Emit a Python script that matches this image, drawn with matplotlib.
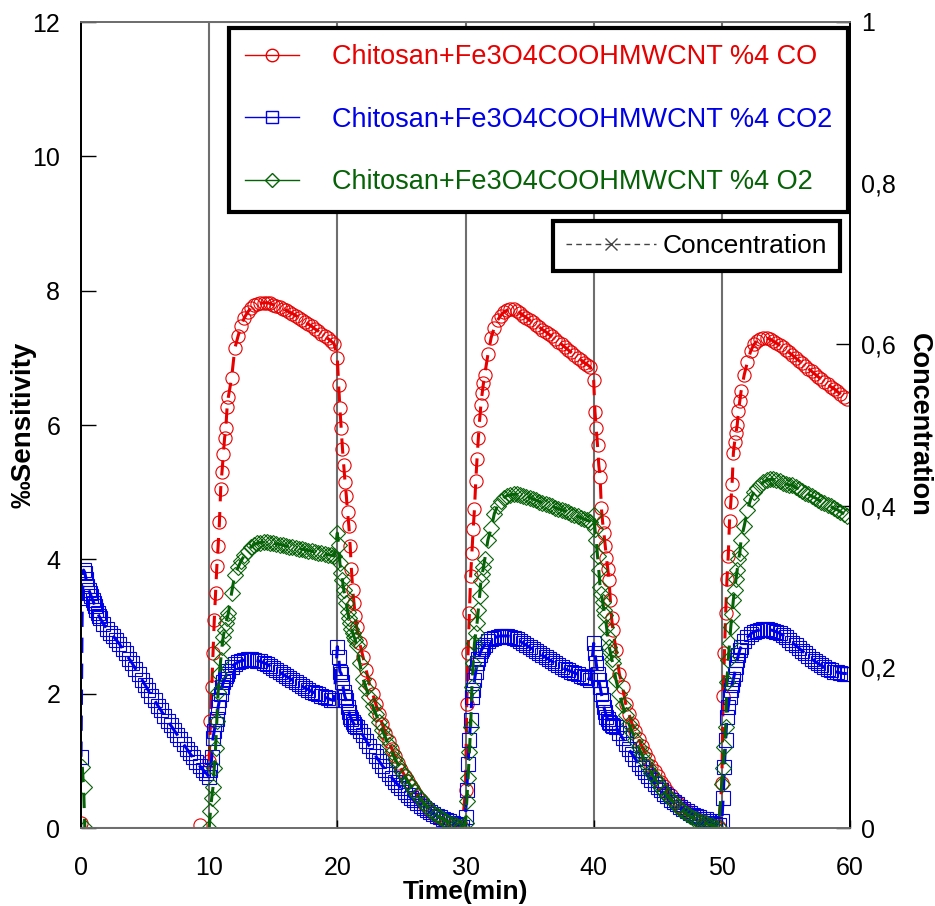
import matplotlib
matplotlib.use("Agg")
import matplotlib.pyplot as plt
from matplotlib.lines import Line2D
from matplotlib.ticker import FuncFormatter, MultipleLocator

plt.rcParams["font.family"] = ["Liberation Sans", "DejaVu Sans"]

nan = float("nan")

# sampling inside each 10-minute half cycle (min after the gas switch)
seg_offsets = [0.0, 0.1, 0.2, 0.3, 0.4, 0.5, 0.6, 0.7, 0.8, 0.9, 1.0, 1.1, 1.2, 1.3, 1.4, 1.5,
               1.75, 2.0, 2.25, 2.5, 2.75, 3.0, 3.25, 3.5, 3.75, 4.0, 4.25, 4.5, 4.75, 5.0,
               5.25, 5.5, 5.75, 6.0, 6.25, 6.5, 6.75, 7.0, 7.25, 7.5, 7.75, 8.0, 8.25, 8.5,
               8.75, 9.0, 9.25, 9.5, 9.75]
seg_starts = [0, 10, 20, 30, 40, 50]

# %4 CO sensitivity, one row per 10-minute segment
co_sens = (
    [0.08] + [nan] * 45 + [0.04, nan, nan]
    + [1.0, 1.6, 2.1, 2.6, 3.1, 3.5, 3.9, 4.2, 4.55, 5.05, 5.3, 5.57, 5.8, 5.95, 6.27, 6.42,
       6.7, 7.14, 7.32, 7.48, 7.6, 7.68, 7.74, 7.78, 7.8, 7.81, 7.82, 7.82, 7.81, 7.79, 7.77,
       7.75, 7.73, 7.71, 7.68, 7.66, 7.63, 7.6, 7.57, 7.53, 7.5, 7.47, 7.43, 7.4, 7.36, 7.33,
       7.29, 7.25, 7.21]
    + [7.0, 6.6, 6.25, 5.95, 5.65, 5.4, 5.15, 4.95, 4.7, 4.5, 4.2, 3.85, 3.55, 3.35, 3.15, 3.0,
       2.75, 2.55, 2.35, 2.15, 2.0, 1.85, 1.7, 1.55, 1.42, 1.3, 1.18, 1.07, 0.97, 0.87, 0.78,
       0.7, 0.62, 0.55, 0.48, 0.42, 0.36, 0.31, 0.26, 0.22, 0.18, 0.15, 0.12, 0.1, 0.08, 0.06,
       0.04, 0.03, 0.02]
    + [0.57, 1.85, 2.6, 3.2, 3.75, 4.1, 4.45, 4.75, 5.16, 5.5, 5.8, 6.07, 6.3, 6.47, 6.62, 6.75,
       7.05, 7.3, 7.45, 7.56, 7.63, 7.68, 7.71, 7.72, 7.72, 7.7, 7.67, 7.63, 7.6, 7.56, 7.53,
       7.49, 7.46, 7.42, 7.39, 7.35, 7.32, 7.28, 7.24, 7.2, 7.16, 7.12, 7.08, 7.04, 7.0, 6.97,
       6.93, 6.9, 6.86]
    + [6.67, 6.2, 5.95, 5.7, 5.4, 5.23, 4.77, 4.55, 4.39, 4.2, 4.02, 3.85, 3.69, 3.39, 3.12, 2.95,
       2.65, 2.3, 2.1, 1.85, 1.7, 1.55, 1.45, 1.33, 1.22, 1.12, 1.02, 0.93, 0.85, 0.77, 0.69,
       0.62, 0.55, 0.49, 0.43, 0.38, 0.33, 0.29, 0.25, 0.21, 0.18, 0.15, 0.12, 0.1, 0.08, 0.06,
       0.04, 0.03, 0.02]
    + [0.67, 1.96, 2.6, 3.2, 3.7, 4.05, 4.57, 4.85, 5.12, 5.58, 5.75, 5.88, 6.0, 6.21, 6.36, 6.5,
       6.75, 6.94, 7.1, 7.2, 7.25, 7.28, 7.29, 7.29, 7.28, 7.25, 7.22, 7.19, 7.16, 7.12, 7.08,
       7.04, 7.0, 6.96, 6.92, 6.88, 6.84, 6.8, 6.76, 6.72, 6.68, 6.64, 6.61, 6.57, 6.54, 6.5,
       6.46, 6.42, 6.38]
)

# %4 CO2 sensitivity
co2_sens = (
    [1.06, 3.42, 3.84, 3.8, 3.7, 3.6, 3.55, 3.5, 3.45, 3.4, 3.35, 3.3, 3.25, 3.2, 3.16, 3.12,
     3.04, 2.97, 2.91, 2.86, 2.8, 2.74, 2.67, 2.6, 2.52, 2.45, 2.37, 2.29, 2.21, 2.13, 2.05,
     1.97, 1.9, 1.82, 1.75, 1.67, 1.6, 1.53, 1.46, 1.39, 1.32, 1.25, 1.18, 1.11, 1.05, 0.99,
     0.93, 0.87, 0.82]
    + [0.76, 0.86, 1.05, 1.34, 1.45, 1.55, 1.63, 1.8, 1.9, 2.0, 2.1, 2.17, 2.22, 2.26, 2.3, 2.34,
       2.4, 2.44, 2.47, 2.49, 2.5, 2.51, 2.51, 2.5, 2.49, 2.48, 2.46, 2.44, 2.41, 2.38, 2.35,
       2.32, 2.29, 2.26, 2.23, 2.2, 2.17, 2.14, 2.11, 2.08, 2.06, 2.03, 2.01, 1.99, 1.97, 1.95,
       1.93, 1.91, 1.9]
    + [2.7, 2.55, 2.33, 2.3, 2.18, 2.03, 1.95, 1.9, 1.8, 1.73, 1.66, 1.62, 1.58, 1.55, 1.52, 1.5,
       1.45, 1.38, 1.3, 1.22, 1.14, 1.07, 1.0, 0.93, 0.87, 0.81, 0.75, 0.69, 0.64, 0.59, 0.54,
       0.49, 0.45, 0.41, 0.37, 0.33, 0.3, 0.27, 0.24, 0.21, 0.18, 0.16, 0.14, 0.12, 0.1, 0.08,
       0.06, 0.04, 0.02]
    + [0.17, 0.57, 0.96, 1.31, 1.61, 1.95, 2.05, 2.2, 2.33, 2.45, 2.52, 2.58, 2.63, 2.67, 2.7, 2.73,
       2.78, 2.81, 2.83, 2.85, 2.86, 2.86, 2.86, 2.85, 2.83, 2.81, 2.78, 2.75, 2.72, 2.69, 2.66,
       2.63, 2.6, 2.57, 2.54, 2.51, 2.48, 2.45, 2.42, 2.39, 2.37, 2.35, 2.33, 2.31, 2.29, 2.27,
       2.25, 2.23, 2.21]
    + [2.75, 2.6, 2.45, 2.3, 2.2, 2.1, 2.0, 1.9, 1.8, 1.73, 1.66, 1.62, 1.58, 1.56, 1.54, 1.52,
       1.5, 1.42, 1.34, 1.25, 1.17, 1.1, 1.03, 0.96, 0.9, 0.84, 0.78, 0.72, 0.66, 0.61, 0.56,
       0.51, 0.47, 0.42, 0.38, 0.35, 0.31, 0.28, 0.25, 0.23, 0.2, 0.18, 0.16, 0.14, 0.13, 0.1,
       0.08, 0.06, 0.04]
    + [0.1, 0.44, 0.91, 1.31, 1.66, 1.8, 1.95, 2.05, 2.13, 2.22, 2.3, 2.4, 2.5, 2.58, 2.65, 2.7,
       2.78, 2.84, 2.89, 2.92, 2.94, 2.95, 2.96, 2.96, 2.95, 2.94, 2.92, 2.9, 2.87, 2.84, 2.8,
       2.76, 2.72, 2.68, 2.64, 2.6, 2.56, 2.52, 2.48, 2.45, 2.42, 2.39, 2.37, 2.35, 2.33, 2.32,
       2.31, 2.3, 2.3]
)

# %4 O2 sensitivity
o2_sens = (
    [nan, 0.91, 0.61, 0.0] + [nan] * 45
    + [0.0, 0.25, 0.45, 0.61, 0.9, 1.19, 1.6, 2.03, 2.3, 2.5, 2.7, 2.85, 2.95, 3.05, 3.12, 3.2,
       3.5, 3.77, 3.88, 3.98, 4.06, 4.13, 4.18, 4.22, 4.24, 4.25, 4.26, 4.26, 4.25, 4.24, 4.23,
       4.22, 4.21, 4.2, 4.19, 4.18, 4.17, 4.16, 4.15, 4.14, 4.13, 4.12, 4.11, 4.1, 4.09, 4.08,
       4.07, 4.06, 4.05]
    + [4.39, 4.21, 3.94, 3.8, 3.69, 3.55, 3.45, 3.35, 3.22, 3.12, 3.05, 2.97, 2.9, 2.85, 2.8, 2.72,
       2.45, 2.22, 2.08, 1.95, 1.82, 1.7, 1.58, 1.46, 1.35, 1.24, 1.13, 1.03, 0.94, 0.85, 0.77,
       0.69, 0.62, 0.55, 0.49, 0.43, 0.37, 0.32, 0.27, 0.23, 0.19, 0.16, 0.13, 0.1, 0.08, 0.06,
       0.04, 0.02, 0.01]
    + [0.07, 0.4, 0.74, 1.13, 1.5, 2.1, 2.45, 2.75, 2.9, 3.05, 3.25, 3.45, 3.67, 3.78, 3.88, 4.0,
       4.29, 4.46, 4.68, 4.8, 4.87, 4.92, 4.95, 4.96, 4.97, 4.97, 4.96, 4.95, 4.93, 4.92, 4.9,
       4.88, 4.86, 4.84, 4.82, 4.81, 4.79, 4.77, 4.75, 4.74, 4.72, 4.7, 4.68, 4.66, 4.64, 4.62,
       4.6, 4.58, 4.56]
    + [4.66, 4.45, 4.29, 4.05, 3.84, 3.59, 3.48, 3.37, 3.25, 3.17, 3.0, 2.85, 2.7, 2.62, 2.52, 2.45,
       2.2, 2.0, 1.83, 1.68, 1.55, 1.43, 1.31, 1.2, 1.1, 1.0, 0.91, 0.82, 0.74, 0.67, 0.6,
       0.54, 0.48, 0.43, 0.38, 0.33, 0.29, 0.25, 0.21, 0.18, 0.15, 0.13, 0.11, 0.09, 0.07, 0.05,
       0.04, 0.02, 0.01]
    + [0.66, 0.9, 1.2, 1.51, 2.18, 2.5, 2.75, 3.0, 3.19, 3.4, 3.54, 3.7, 3.84, 4.0, 4.09, 4.29,
       4.5, 4.73, 4.9, 5.0, 5.06, 5.11, 5.15, 5.18, 5.19, 5.19, 5.18, 5.16, 5.14, 5.12, 5.11,
       5.1, 5.07, 5.05, 5.02, 4.99, 4.97, 4.94, 4.92, 4.89, 4.86, 4.84, 4.81, 4.79, 4.76, 4.74,
       4.71, 4.68, 4.65]
)

# gas concentration square wave (right axis)
conc_edges = [0, 10, 20, 30, 40, 50, 60]
conc_level = [0, 1, 0, 1, 0, 1]

labels = ["Chitosan+Fe3O4COOHMWCNT %4 CO",
          "Chitosan+Fe3O4COOHMWCNT %4 CO2",
          "Chitosan+Fe3O4COOHMWCNT %4 O2"]
RED, BLUE, GREEN = "#e60000", "#0000e6", "#066206"

time_min = [start + off for start in seg_starts for off in seg_offsets]

fig = plt.figure(figsize=(9.35, 9.06), dpi=100)
ax = fig.add_axes([81 / 935, 1 - 828 / 906, 769 / 935, 806 / 906])
ax2 = ax.twinx()
ax.set_zorder(ax2.get_zorder() + 1)
ax.patch.set_visible(False)

ax2.step(conc_edges, conc_level + conc_level[-1:], where="post", color="#6e6e6e", lw=1.5)

dash = (0, (5, 3.5))
common = dict(linestyle=dash, lw=2.2, mfc="none", ms=9.5, mew=0.8)
ax.plot(time_min, co_sens, color=RED, marker="o", mec=RED, **common)
ax.plot(time_min, co2_sens, color=BLUE, marker="s", mec=BLUE, **common)
ax.plot(time_min, o2_sens, color=GREEN, marker="D", mec=GREEN,
        **{**common, "ms": 8})

ax.set_xlim(0, 60)
ax.set_ylim(0, 12)
ax2.set_ylim(0, 1)
ax.xaxis.set_major_locator(MultipleLocator(10))
ax.yaxis.set_major_locator(MultipleLocator(2))
ax2.yaxis.set_major_locator(MultipleLocator(0.2))
ax2.yaxis.set_major_formatter(FuncFormatter(lambda v, _: f"{v:g}".replace(".", ",")))

ax.tick_params(axis="y", direction="in", length=11, width=1, labelsize=18, pad=15)
ax.tick_params(axis="x", direction="in", length=6, width=1, labelsize=18, pad=20)
ax2.tick_params(axis="y", direction="in", length=10, width=1, labelsize=18, pad=8)

for a in (ax, ax2):
    for side in ("left", "right"):
        a.spines[side].set_color("black")
        a.spines[side].set_linewidth(1.3)
    for side in ("top", "bottom"):
        a.spines[side].set_color("#6e6e6e")
        a.spines[side].set_linewidth(1.3)

ax.set_xlabel("Time(min)", fontsize=19, fontweight="bold", labelpad=0)
ax.set_ylabel("‰Sensitivity", fontsize=20, fontweight="bold", labelpad=-3)
ax2.set_ylabel("Concentration", fontsize=19.5, fontweight="bold", rotation=270,
               labelpad=26)

handles = [
    Line2D([], [], color=RED, lw=1, marker="o", mfc="none", mec=RED, ms=9),
    Line2D([], [], color=BLUE, lw=1, marker="s", mfc="none", mec=BLUE, ms=9),
    Line2D([], [], color=GREEN, lw=1, marker="D", mfc="none", mec=GREEN, ms=7),
]
leg1 = fig.legend(handles, labels, loc="upper right", bbox_to_anchor=(848 / 935, 1 - 28 / 906),
                  borderaxespad=0, fancybox=False, framealpha=1, edgecolor="black",
                  prop={"size": 19.5}, labelcolor=[RED, BLUE, GREEN], handlelength=2.0,
                  handletextpad=1.2, labelspacing=1.35, borderpad=0.6)
leg1.get_frame().set_linewidth(3)

conc_handle = Line2D([], [], color="#444444", lw=1, linestyle=(0, (4, 3)), marker="x",
                     ms=9, mew=1)
leg2 = fig.legend([conc_handle], ["Concentration"], loc="upper right",
                  bbox_to_anchor=(840 / 935, 1 - 221 / 906), borderaxespad=0,
                  fancybox=False, framealpha=1, edgecolor="black", prop={"size": 19},
                  handlelength=3.4, handletextpad=0.25, borderpad=0.5)
leg2.get_frame().set_linewidth(3)

fig.savefig("out.png", dpi=100)
